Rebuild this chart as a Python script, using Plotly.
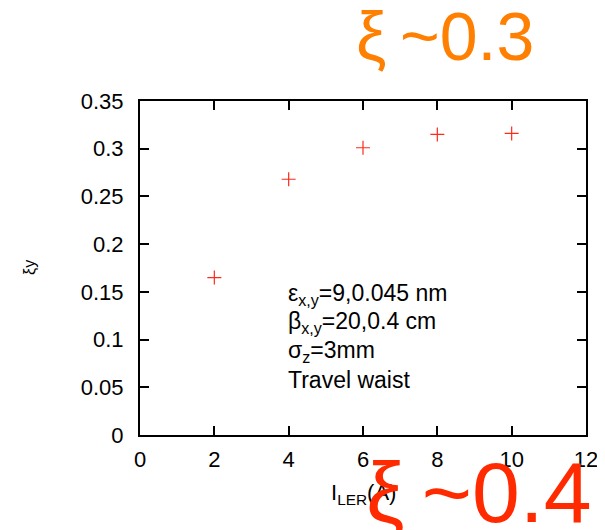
import plotly.graph_objects as go

current = [2, 4, 6, 8, 10]
xi_y = [0.165, 0.268, 0.301, 0.315, 0.316]
x_ticks = [0, 2, 4, 6, 8, 10, 12]
y_ticks = [0, 0.05, 0.1, 0.15, 0.2, 0.25, 0.3, 0.35]
y_ticklabels = ["0", "0.05", "0.1", "0.15", "0.2", "0.25", "0.3", "0.35"]
info_lines = ["ε<sub>x,y</sub>=9,0.045 nm", "β<sub>x,y</sub>=20,0.4 cm", "σ<sub>z</sub>=3mm", "Travel waist"]

FONT = "Liberation Sans, Arial, sans-serif"
OFF = 8  # page body margin

fig = go.Figure()
fig.add_trace(go.Scatter(
    x=current, y=xi_y, mode="markers",
    marker=dict(symbol="cross-thin", size=10, line=dict(color="#ff2a1a", width=1.2)),
    showlegend=False,
))

axis_common = dict(
    showgrid=False, zeroline=False, showline=True, linecolor="black", linewidth=2,
    mirror="ticks", ticks="inside", ticklen=9, tickwidth=1.5, tickcolor="black",
    tickfont=dict(family=FONT, size=22, color="black"), automargin=False,
)
fig.update_xaxes(range=[0, 12], tickvals=x_ticks, ticklabelstandoff=4, **axis_common)
fig.update_yaxes(range=[0, 0.35], tickvals=y_ticks, ticktext=y_ticklabels, ticklabelstandoff=10, **axis_common)

W, H = 605 - OFF, 530 - OFF
L, R, T, B = 140, 586, 101, 435
fig.update_layout(
    width=W, height=H,
    margin=dict(l=L - OFF, r=605 - R, t=T - OFF, b=530 - B, autoexpand=False),
    paper_bgcolor="white", plot_bgcolor="white",
)

def px(xp, yp):
    return (xp - L) / (R - L), (B - yp) / (B - T)

anns = []
for i, line in enumerate(info_lines):
    xx, yy = px(286, 294 + i * 28.5)
    anns.append(dict(x=xx, y=yy, xref="paper", yref="paper", text=line, showarrow=False,
                     xanchor="left", yanchor="middle", font=dict(family=FONT, size=23, color="black")))

xx, yy = px(363, 494)
anns.append(dict(x=xx, y=yy, xref="paper", yref="paper", text="I<sub>LER</sub>(A)", showarrow=False,
                 xanchor="center", yanchor="middle", font=dict(family=FONT, size=22, color="black")))
xx, yy = px(30, 268)
anns.append(dict(x=xx, y=yy, xref="paper", yref="paper", text="ξy", showarrow=False, textangle=-90,
                 xanchor="center", yanchor="middle", font=dict(family=FONT, size=16, color="black")))
xx, yy = px(445, 36)
anns.append(dict(x=xx, y=yy, xref="paper", yref="paper", text="ξ\u2009~0.3", showarrow=False,
                 xanchor="center", yanchor="middle", font=dict(family=FONT, size=68, color="#ff7f00")))
xx, yy = px(479, 492)
anns.append(dict(x=xx, y=yy, xref="paper", yref="paper", text="ξ\u2009~0.4", showarrow=False,
                 xanchor="center", yanchor="middle", font=dict(family=FONT, size=86, color="#ff2a00")))

fig.update_layout(annotations=anns)
fig.write_html("out.html")
